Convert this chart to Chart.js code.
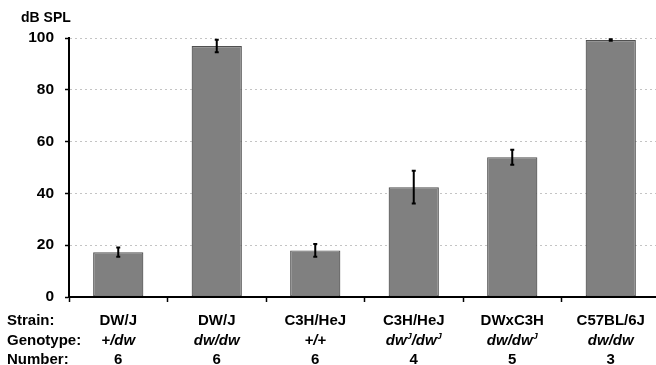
<!DOCTYPE html>
<html lang="en">
<head>
<meta charset="utf-8">
<script src="https://cdn.jsdelivr.net/npm/chart.js"></script>
<style>
  html, body { margin: 0; padding: 0; background: #fff; overflow: hidden; }
  .wrap { width: 660px; height: 365px; }
</style>
</head>
<body>
<div class="wrap">
  <canvas id="chartBar"></canvas>
</div>

<script>
  // data
  var strains = ['DW/J', 'DW/J', 'C3H/HeJ', 'C3H/HeJ', 'DWxC3H', 'C57BL/6J'];
  var genotypes = ['+/dw', 'dw/dw', '+/+', 'dw^J/dw^J', 'dw/dw^J', 'dw/dw'];
  var numbers = ['6', '6', '6', '4', '5', '3'];
  var values = [17.3, 96.9, 18.0, 42.4, 54.0, 99.2];
  var errors = [1.8, 2.4, 2.5, 6.3, 2.9, 0.3];
  var rowNames = ['Strain:', 'Genotype:', 'Number:'];
  var yTicks = [0, 20, 40, 60, 80, 100];

  var FONT = "'Liberation Sans', Arial, sans-serif";
  Chart.defaults.font.family = FONT;
  Chart.defaults.color = '#000';

  // error bars on top of the bars
  var errorBars = {
    id: 'errorBars',
    afterDatasetsDraw: function (chart) {
      var ctx = chart.ctx;
      var y = chart.scales.y;
      var meta = chart.getDatasetMeta(0);
      ctx.save();
      ctx.strokeStyle = '#000';
      ctx.lineWidth = 2;
      meta.data.forEach(function (bar, i) {
        var top = y.getPixelForValue(values[i] + errors[i]);
        var bot = y.getPixelForValue(values[i] - errors[i]);
        ctx.beginPath();
        ctx.moveTo(bar.x, top); ctx.lineTo(bar.x, bot);
        ctx.moveTo(bar.x - 2, top); ctx.lineTo(bar.x + 2, top);
        ctx.moveTo(bar.x - 2, bot); ctx.lineTo(bar.x + 2, bot);
        ctx.stroke();
      });
      ctx.restore();
    }
  };

  // genotype text: italic, ^J drawn as superscript
  function drawGenotype(ctx, text, cx, y) {
    var parts = text.split('^J');
    var big = 'italic bold 15px ' + FONT;
    var small = 'italic bold 9px ' + FONT;
    var total = 0;
    parts.forEach(function (p, k) {
      ctx.font = big; total += ctx.measureText(p).width;
      if (k < parts.length - 1) { ctx.font = small; total += ctx.measureText('J').width; }
    });
    var x = cx - total / 2;
    ctx.textAlign = 'left';
    parts.forEach(function (p, k) {
      ctx.font = big; ctx.fillText(p, x, y); x += ctx.measureText(p).width;
      if (k < parts.length - 1) {
        ctx.font = small; ctx.fillText('J', x, y - 6); x += ctx.measureText('J').width;
      }
    });
  }

  // table under the axis + axis title
  var tableText = {
    id: 'tableText',
    afterDraw: function (chart) {
      var ctx = chart.ctx;
      var xs = chart.scales.x;
      var rows = [325, 345, 364];
      ctx.save();
      ctx.fillStyle = '#000';
      ctx.textBaseline = 'alphabetic';

      ctx.font = 'bold 14px ' + FONT;
      ctx.textAlign = 'left';
      ctx.fillText('dB SPL', 21, 22);

      ctx.font = 'bold 15px ' + FONT;
      rowNames.forEach(function (name, r) {
        ctx.fillText(name, 7, rows[r]);
      });
      strains.forEach(function (s, i) {
        var cx = xs.getPixelForValue(i);
        ctx.font = 'bold 15px ' + FONT;
        ctx.textAlign = 'center';
        ctx.fillText(s, cx, rows[0]);
        drawGenotype(ctx, genotypes[i], cx, rows[1]);
        ctx.font = 'bold 15px ' + FONT;
        ctx.textAlign = 'center';
        ctx.fillText(numbers[i], cx, rows[2]);
      });
      ctx.restore();
    }
  };

  var ctxBar = document.getElementById('chartBar').getContext('2d');
  var configBar = {
    type: 'bar',
    data: {
      labels: strains,
      datasets: [{
        data: values,
        backgroundColor: '#808080',
        borderColor: '#505050',
        borderWidth: 1.2,
        borderSkipped: false,
        barPercentage: 0.51,
        categoryPercentage: 1
      }]
    },
    options: {
      responsive: true,
      maintainAspectRatio: false,
      animation: false,
      layout: { padding: { top: 38, left: 0, right: 0, bottom: 0 } },
      plugins: { legend: { display: false }, tooltip: { enabled: false } },
      scales: {
        x: {
          afterFit: function (s) { s.height = 68; },
          ticks: { display: false },
          grid: {
            drawOnChartArea: false,
            drawTicks: true,
            tickLength: 5,
            tickColor: '#000',
            tickWidth: 1.5
          },
          border: { color: '#000', width: 2, z: 1 }
        },
        y: {
          min: 0,
          max: 100,
          afterFit: function (s) { s.width = 69; },
          afterBuildTicks: function (s) {
            s.ticks = yTicks.map(function (v) { return { value: v }; });
          },
          ticks: {
            padding: 11,
            font: { size: 15.5, weight: 'bold' },
            color: '#000'
          },
          grid: {
            color: function (c) { return c.tick && c.tick.value === 0 ? 'rgba(0,0,0,0)' : '#c4c4c4'; },
            lineWidth: 1,
            tickLength: 4,
            tickColor: '#000',
            tickWidth: 1.5,
            tickBorderDash: []
          },
          border: { color: '#000', width: 2, dash: [2, 3] }
        }
      }
    },
    plugins: [errorBars, tableText]
  };

  var ax_chartBar = new Chart(ctxBar, configBar);
</script>
</body>
</html>
